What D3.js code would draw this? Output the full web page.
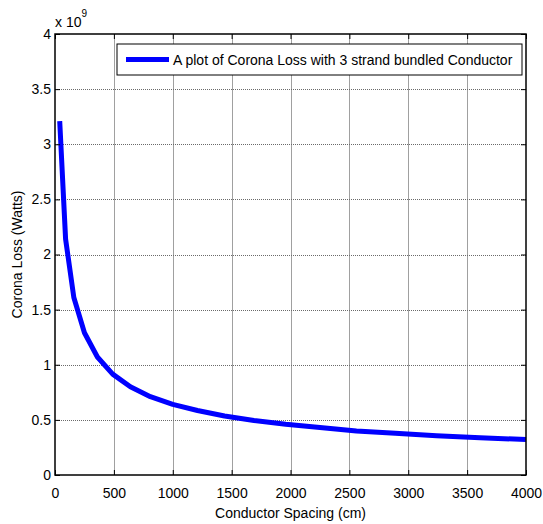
<!DOCTYPE html>
<html>
<head>
<meta charset="utf-8">
<script src="https://cdn.jsdelivr.net/npm/d3@7"></script>
<style>
  body { margin: 0; background: #fff; }
  svg { display: block; font-family: "Liberation Sans", Arial, sans-serif; }
</style>
</head>
<body>
<svg id="chart" width="543" height="524"></svg>
<script>
// Data
const spacingCm = [40, 90, 160, 250, 360, 490, 640, 810, 1000, 1210, 1440, 1690, 1960, 2250, 2560, 2890, 3240, 3610, 4000];
const coronaLoss = [3.21e9, 2.14e9, 1.61e9, 1.29e9, 1.07e9, 0.915e9, 0.80e9, 0.71e9, 0.64e9, 0.585e9, 0.535e9, 0.495e9, 0.46e9, 0.43e9, 0.40e9, 0.378e9, 0.357e9, 0.338e9, 0.322e9];
const xTicks = [0, 500, 1000, 1500, 2000, 2500, 3000, 3500, 4000];
const yTicks = [0, 0.5e9, 1e9, 1.5e9, 2e9, 2.5e9, 3e9, 3.5e9, 4e9];
const legendLabel = "A plot of Corona Loss with 3 strand bundled Conductor";
const xLabel = "Conductor Spacing (cm)";
const yLabel = "Corona Loss (Watts)";

(function () {
const svg = d3.select("#chart");
const pL = 55, pR = 526, pT = 34, pB = 475;
const FS = 14;

const x = d3.scaleLinear().domain([0, 4000]).range([pL, pR]);
const y = d3.scaleLinear().domain([0, 4e9]).range([pB, pT]);

// Grid
const grid = svg.append("g");
grid.selectAll("line.vg").data(xTicks.slice(1, -1)).join("line")
  .attr("x1", d => Math.round(x(d)) + 0.5).attr("x2", d => Math.round(x(d)) + 0.5)
  .attr("y1", pT).attr("y2", pB)
  .attr("stroke", "#a0a0a0").attr("stroke-width", 1);
grid.selectAll("line.hg").data(yTicks.slice(1, -1)).join("line")
  .attr("y1", d => Math.round(y(d)) + 0.5).attr("y2", d => Math.round(y(d)) + 0.5)
  .attr("x1", pL).attr("x2", pR)
  .attr("stroke", "#6a6a6a").attr("stroke-width", 1).attr("stroke-dasharray", "1,1");

// Curve
const line = d3.line().x((d, i) => x(spacingCm[i])).y(d => y(d));
svg.append("path").datum(coronaLoss)
  .attr("d", line)
  .attr("fill", "none").attr("stroke", "#0000ff").attr("stroke-width", 5)
  .attr("stroke-linejoin", "round");

// Axes (MATLAB style: ticks inside, box)
const fmtY = d => d3.format("~g")(d / 1e9);
const xAxisB = d3.axisBottom(x).tickValues(xTicks).tickSize(-5).tickPadding(13).tickFormat(d3.format("d"));
const xAxisT = d3.axisTop(x).tickValues(xTicks).tickSize(-5).tickFormat("");
const yAxisL = d3.axisLeft(y).tickValues(yTicks).tickSize(-5).tickPadding(4).tickFormat(fmtY);
const yAxisR = d3.axisRight(y).tickValues(yTicks).tickSize(-5).tickFormat("");

function style(g) {
  g.select(".domain").remove();
  g.selectAll(".tick line").attr("stroke", "#000");
  g.selectAll(".tick text").attr("font-size", FS).attr("fill", "#000")
    .attr("font-family", "'Liberation Sans', Arial, sans-serif");
}
svg.append("g").attr("transform", `translate(0,${pB})`).call(xAxisB).call(style);
svg.append("g").attr("transform", `translate(0,${pT})`).call(xAxisT).call(style);
svg.append("g").attr("transform", `translate(${pL},0)`).call(yAxisL).call(style);
svg.append("g").attr("transform", `translate(${pR},0)`).call(yAxisR).call(style);
svg.append("rect").attr("x", pL).attr("y", pT).attr("width", pR - pL).attr("height", pB - pT)
  .attr("fill", "none").attr("stroke", "#000").attr("stroke-width", 1.5);

// Exponent label
const ex = svg.append("text").attr("x", 55).attr("y", 27).attr("font-size", FS).attr("fill", "#000");
ex.append("tspan").text("x 10");
ex.append("tspan").attr("dy", -10).attr("font-size", 10).text("9");

// Axis labels
svg.append("text").attr("x", (pL + pR) / 2).attr("y", 518).attr("text-anchor", "middle")
  .attr("font-size", FS).text(xLabel);
svg.append("text").attr("transform", `translate(22,${(pT + pB) / 2}) rotate(-90)`)
  .attr("text-anchor", "middle").attr("font-size", FS).text(yLabel);

// Legend
const lg = svg.append("g");
lg.append("rect").attr("x", 117).attr("y", 44).attr("width", 405).attr("height", 31)
  .attr("fill", "#fff").attr("stroke", "#000").attr("stroke-width", 1);
lg.append("line").attr("x1", 126).attr("x2", 169).attr("y1", 59.5).attr("y2", 59.5)
  .attr("stroke", "#0000ff").attr("stroke-width", 5);
lg.append("text").attr("x", 173).attr("y", 65).attr("font-size", FS).text(legendLabel);
})();
</script>
</body>
</html>
